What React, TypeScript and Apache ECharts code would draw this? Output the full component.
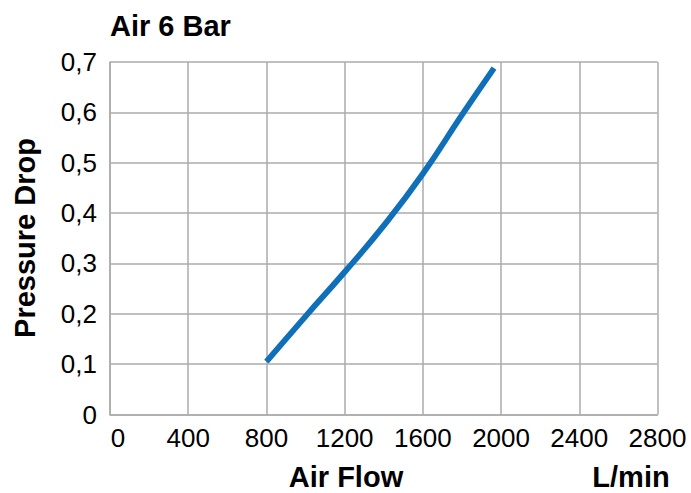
import React, { useEffect, useRef } from "react";
import * as echarts from "echarts";

const airFlow = [800, 1000, 1200, 1400, 1600, 1800, 1964];
const pressureDrop = [0.105, 0.195, 0.283, 0.375, 0.478, 0.595, 0.688];
const xTicks = { min: 0, max: 2800, interval: 400 };
const yTicks = { min: 0, max: 0.7, interval: 0.1 };
const titleText = "Air 6 Bar";
const xName = "Air Flow";
const xUnit = "L/min";
const yName = "Pressure Drop";

const FONT = "'Liberation Sans', Arial, sans-serif";

export default function App() {
  const ref = useRef<HTMLDivElement>(null);
  useEffect(() => {
    if (!ref.current) return;
    const chart = echarts.init(ref.current, undefined, { renderer: "svg" });
    const data = airFlow.map((x, i) => [x, pressureDrop[i]]);
    chart.setOption({
      animation: false,
      backgroundColor: "#ffffff",
      textStyle: { fontFamily: FONT },
      grid: { left: 110, right: 33.5, top: 62, bottom: 78.5, containLabel: false },
      xAxis: {
        type: "value",
        min: xTicks.min,
        max: xTicks.max,
        interval: xTicks.interval,
        axisLine: { show: true, lineStyle: { color: "#ABABAB", width: 1.5 } },
        axisTick: { show: false },
        splitLine: { show: true, lineStyle: { color: "#ABABAB", width: 1.5 } },
        axisLabel: {
          color: "#000",
          fontSize: 26,
          fontFamily: FONT,
          margin: 10,
          formatter: (v: number) => (v === 0 ? "{z|0}" : String(v)),
          rich: {
            z: { fontSize: 26, fontFamily: FONT, color: "#000", padding: [0, 0, 0, 16] },
          },
        },
      },
      yAxis: {
        type: "value",
        min: yTicks.min,
        max: yTicks.max,
        interval: yTicks.interval,
        axisLine: { show: true, lineStyle: { color: "#ABABAB", width: 1.5 } },
        axisTick: { show: false },
        splitLine: { show: true, lineStyle: { color: "#ABABAB", width: 1.5 } },
        axisLabel: {
          color: "#000",
          fontSize: 26,
          fontFamily: FONT,
          margin: 13,
          formatter: (v: number) => (Math.round(v * 10) / 10).toString().replace(".", ","),
        },
      },
      series: [
        {
          type: "line",
          data,
          smooth: true,
          showSymbol: false,
          symbol: "none",
          lineStyle: { color: "#0F6FB8", width: 5.8, cap: "butt" },
        },
      ],
      graphic: [
        {
          type: "text",
          left: 110,
          top: 11,
          style: { text: titleText, font: `bold 29px ${FONT}`, fill: "#000" },
        },
        {
          type: "text",
          x: 346,
          y: 477,
          style: { text: xName, font: `bold 29px ${FONT}`, fill: "#000", align: "center", verticalAlign: "middle" },
        },
        {
          type: "text",
          x: 631,
          y: 477,
          style: { text: xUnit, font: `bold 29px ${FONT}`, fill: "#000", align: "center", verticalAlign: "middle" },
        },
        {
          type: "text",
          x: 25,
          y: 238,
          rotation: Math.PI / 2,
          style: { text: yName, font: `bold 29px ${FONT}`, fill: "#000", align: "center", verticalAlign: "middle" },
        },
      ],
    });
    return () => chart.dispose();
  }, []);
  return <div ref={ref} style={{ position: "fixed", left: 0, top: 0, width: 691, height: 493 }} />;
}
